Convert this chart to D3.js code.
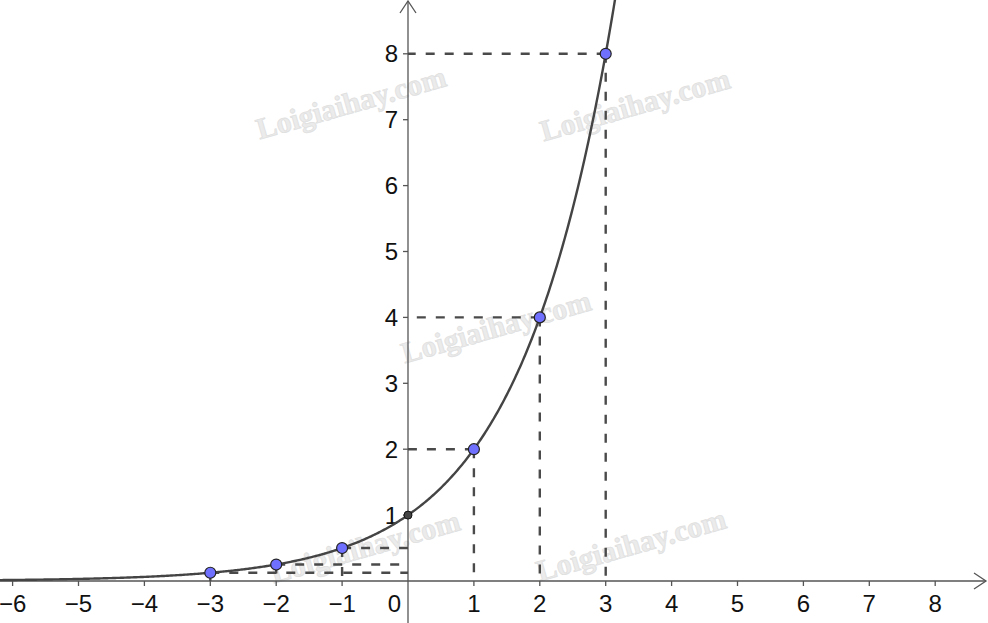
<!DOCTYPE html>
<html><head><meta charset="utf-8">
<script src="https://cdn.jsdelivr.net/npm/d3@7"></script>
<style>html,body{margin:0;padding:0;background:#fff;}svg{display:block;}</style>
</head><body>
<svg id="c" width="988" height="623"></svg>
<script>
// ---- data ----
const base = 2;
const xTicks = [-6,-5,-4,-3,-2,-1,1,2,3,4,5,6,7,8];
const yTicks = [1,2,3,4,5,6,7,8];
const pointX = [-3,-2,-1,1,2,3];
const pointY = [0.125,0.25,0.5,2,4,8];
const interceptPoint = [0,1];
const watermarks = [[352,106],[636,108],[497,330],[366,550],[632,548]];

const W = 988, H = 623;
const svg = d3.select("#c");
const x = d3.scaleLinear().domain([-408/65.9, (W-408)/65.9]).range([0, W]);
const y = d3.scaleLinear().domain([-(H-581)/65.9, 581/65.9]).range([H, 0]);

// watermarks
svg.append("g").selectAll("text").data(watermarks).join("text")
  .attr("transform", d => `translate(${d[0]},${d[1]}) rotate(-16)`)
  .attr("text-anchor","middle").attr("dominant-baseline","middle")
  .attr("font-family","Liberation Serif, serif").attr("font-weight","bold")
  .attr("font-size",30).attr("fill","#ebebeb").attr("stroke","#e0e0e0").attr("stroke-width",0.8)
  .text("Loigiaihay.com");

const axisColor = "#555";
// axes
svg.append("line").attr("x1",0).attr("x2",W-2).attr("y1",y(0)).attr("y2",y(0))
  .attr("stroke",axisColor).attr("stroke-width",1.3);
svg.append("line").attr("x1",x(0)).attr("x2",x(0)).attr("y1",H).attr("y2",1)
  .attr("stroke",axisColor).attr("stroke-width",1.3);
// arrowheads
svg.append("path").attr("d",`M${W-14},${y(0)-8} L${W-2},${y(0)} L${W-14},${y(0)+8}`)
  .attr("fill","none").attr("stroke",axisColor).attr("stroke-width",1.3);
svg.append("path").attr("d",`M${x(0)-8},${13} L${x(0)},${1} L${x(0)+8},${13}`)
  .attr("fill","none").attr("stroke",axisColor).attr("stroke-width",1.3);

// ticks
svg.append("g").selectAll("line").data(xTicks).join("line")
  .attr("x1",d=>x(d)).attr("x2",d=>x(d)).attr("y1",y(0)).attr("y2",y(0)+5)
  .attr("stroke",axisColor).attr("stroke-width",1.3);
svg.append("g").selectAll("line").data(yTicks).join("line")
  .attr("x1",x(0)-5).attr("x2",x(0)).attr("y1",d=>y(d)).attr("y2",d=>y(d))
  .attr("stroke",axisColor).attr("stroke-width",1.3);

const fmt = d => d < 0 ? "\u2212" + Math.abs(d) : String(d);
svg.append("g").selectAll("text").data(xTicks).join("text")
  .attr("x",d=>x(d)).attr("y",y(0)+31).attr("text-anchor","middle")
  .attr("font-family","Liberation Sans, Arial, sans-serif").attr("font-size",24)
  .attr("fill","#111").text(fmt);
svg.append("g").selectAll("text").data(yTicks).join("text")
  .attr("x",x(0)-10).attr("y",d=>y(d)+8.5).attr("text-anchor","end")
  .attr("font-family","Liberation Sans, Arial, sans-serif").attr("font-size",24)
  .attr("fill","#111").text(fmt);
svg.append("text").attr("x",x(0)-7).attr("y",y(0)+31).attr("text-anchor","end")
  .attr("font-family","Liberation Sans, Arial, sans-serif").attr("font-size",24)
  .attr("fill","#111").text("0");

// dashed guide lines
const pts = pointX.map((d,i)=>[d,pointY[i]]);
const dash = svg.append("g").attr("stroke","#4a4a4a").attr("stroke-width",2.4).attr("stroke-dasharray","9,10").attr("fill","none");
dash.selectAll("line.h").data(pts).join("line").attr("class","h")
  .attr("x1",d=>x(d[0])).attr("x2",x(0)).attr("y1",d=>y(d[1])).attr("y2",d=>y(d[1]));
dash.selectAll("line.v").data(pts).join("line").attr("class","v")
  .attr("x1",d=>x(d[0])).attr("x2",d=>x(d[0])).attr("y1",d=>y(d[1])).attr("y2",y(0));

// curve y = base^x
const xs = d3.range(-6.3, Math.log(y.domain()[1]+0.3)/Math.log(base), 0.02);
const curve = xs.map(v=>[v, Math.pow(base, v)]);
svg.append("path").datum(curve)
  .attr("d", d3.line().x(d=>x(d[0])).y(d=>y(d[1])))
  .attr("fill","none").attr("stroke","#444").attr("stroke-width",2.4);

// points
svg.append("g").selectAll("circle").data(pts).join("circle")
  .attr("cx",d=>x(d[0])).attr("cy",d=>y(d[1])).attr("r",5.5)
  .attr("fill","#7070ff").attr("stroke","#222").attr("stroke-width",1.2);
svg.append("circle").attr("cx",x(interceptPoint[0])).attr("cy",y(interceptPoint[1])).attr("r",4)
  .attr("fill","#444").attr("stroke","#111").attr("stroke-width",1);
</script>
</body></html>
